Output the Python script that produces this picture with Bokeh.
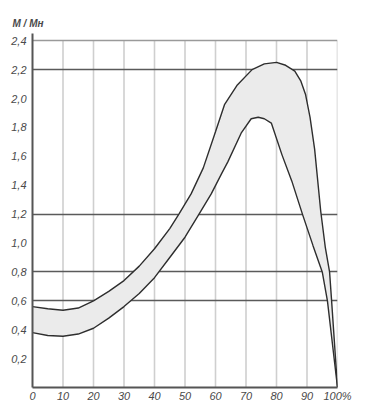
from bokeh.plotting import figure
from bokeh.models import FixedTicker, Range1d, Grid
from bokeh.embed import file_html
from bokeh.resources import INLINE

# Data
upper_x = [0, 5, 10, 15, 20, 25, 30, 35, 40, 45, 48, 52, 56, 60, 63, 67, 72, 76, 80, 83, 86, 88, 89.5, 91, 92.5, 94.5, 96, 97.4, 98, 100]
upper_y = [0.56, 0.545, 0.535, 0.55, 0.60, 0.665, 0.74, 0.84, 0.96, 1.10, 1.20, 1.34, 1.52, 1.77, 1.96, 2.09, 2.20, 2.24, 2.25, 2.23, 2.19, 2.12, 2.03, 1.87, 1.65, 1.22, 0.97, 0.80, 0.62, 0.0]
lower_x = [0, 5, 10, 15, 20, 25, 30, 35, 40, 45, 50, 54.6, 58.6, 62, 64, 68.4, 71.7, 74, 76, 78.3, 81.8, 85, 88.5, 92, 95, 96.7, 100]
lower_y = [0.38, 0.36, 0.355, 0.37, 0.41, 0.48, 0.56, 0.65, 0.76, 0.90, 1.04, 1.20, 1.34, 1.48, 1.56, 1.76, 1.86, 1.87, 1.86, 1.83, 1.61, 1.43, 1.20, 0.98, 0.80, 0.60, 0.0]

x_ticks = [0, 10, 20, 30, 40, 50, 60, 70, 80, 90, 100]
x_labels = ["0", "10", "20", "30", "40", "50", "60", "70", "80", "90", "100%"]
y_ticks = [0.2, 0.4, 0.6, 0.8, 1.0, 1.2, 1.4, 1.6, 1.8, 2.0, 2.2, 2.4]
y_labels = ["0,2", "0,4", "0,6", "0,8", "1,0", "1,2", "1,4", "1,6", "1,8", "2,0", "2,2", "2,4"]
dark_grid = [0.6, 0.8, 1.2, 2.2]
light_hgrid = [2.4]
v_grid = [10, 20, 30, 40, 50, 60, 70, 80, 90, 100]
y_label_text = "M / Mн"

FONT = "Liberation Sans"
TXT = "#4a4a4a"

p = figure(width=357, height=404, output_backend="svg", toolbar_location=None,
           x_range=Range1d(0, 100), y_range=Range1d(0, 2.45),
           min_border_left=32, min_border_right=20, min_border_top=33, min_border_bottom=4,
           title=y_label_text)
p.outline_line_color = None
p.background_fill_color = "white"
p.border_fill_color = "white"

p.title.align = "left"
p.title.offset = -20
p.title.text_font = FONT
p.title.text_font_style = "bold italic"
p.title.text_font_size = "10px"
p.title.text_color = TXT
p.title.standoff = 10

# grids
p.xgrid.visible = False
p.ygrid.ticker = FixedTicker(ticks=dark_grid)
p.ygrid.grid_line_color = "#5a5a5a"
p.ygrid.grid_line_width = 1.6
g2 = Grid(dimension=1, ticker=FixedTicker(ticks=light_hgrid), grid_line_color="#9a9a9a", grid_line_width=1.4)
p.add_layout(g2)

# vertical grid lines up to the top tick
p.segment(x0=v_grid, y0=[0] * len(v_grid), x1=v_grid, y1=[y_ticks[-1]] * len(v_grid),
          line_color="#cfcfcf", line_width=1.6, level="underlay")

# band between the two curves
px = upper_x + lower_x[::-1]
py = upper_y + lower_y[::-1]
p.patch(px, py, fill_color="#ebebeb", line_color=None)
p.line(upper_x, upper_y, line_color="#2e2e2e", line_width=1.4)
p.line(lower_x, lower_y, line_color="#2e2e2e", line_width=1.4)

for ax in (p.xaxis[0], p.yaxis[0]):
    ax.axis_line_color = "#555555"
    ax.axis_line_width = 2
    ax.major_tick_line_color = None
    ax.minor_tick_line_color = None
    ax.major_tick_out = 0
    ax.major_tick_in = 0
    ax.minor_tick_out = 0
    ax.minor_tick_in = 0
    ax.major_label_text_font = FONT
    ax.major_label_text_font_style = "italic"
    ax.major_label_text_font_size = "11px"
    ax.major_label_text_color = TXT

p.xaxis.ticker = FixedTicker(ticks=x_ticks)
p.xaxis.major_label_overrides = {t: l for t, l in zip(x_ticks, x_labels)}
p.xaxis.major_label_standoff = 2
p.yaxis.ticker = FixedTicker(ticks=y_ticks)
p.yaxis.major_label_overrides = {t: l for t, l in zip(y_ticks, y_labels)}
p.yaxis.major_label_standoff = 6

open("out.html", "w").write(file_html(p, INLINE))
